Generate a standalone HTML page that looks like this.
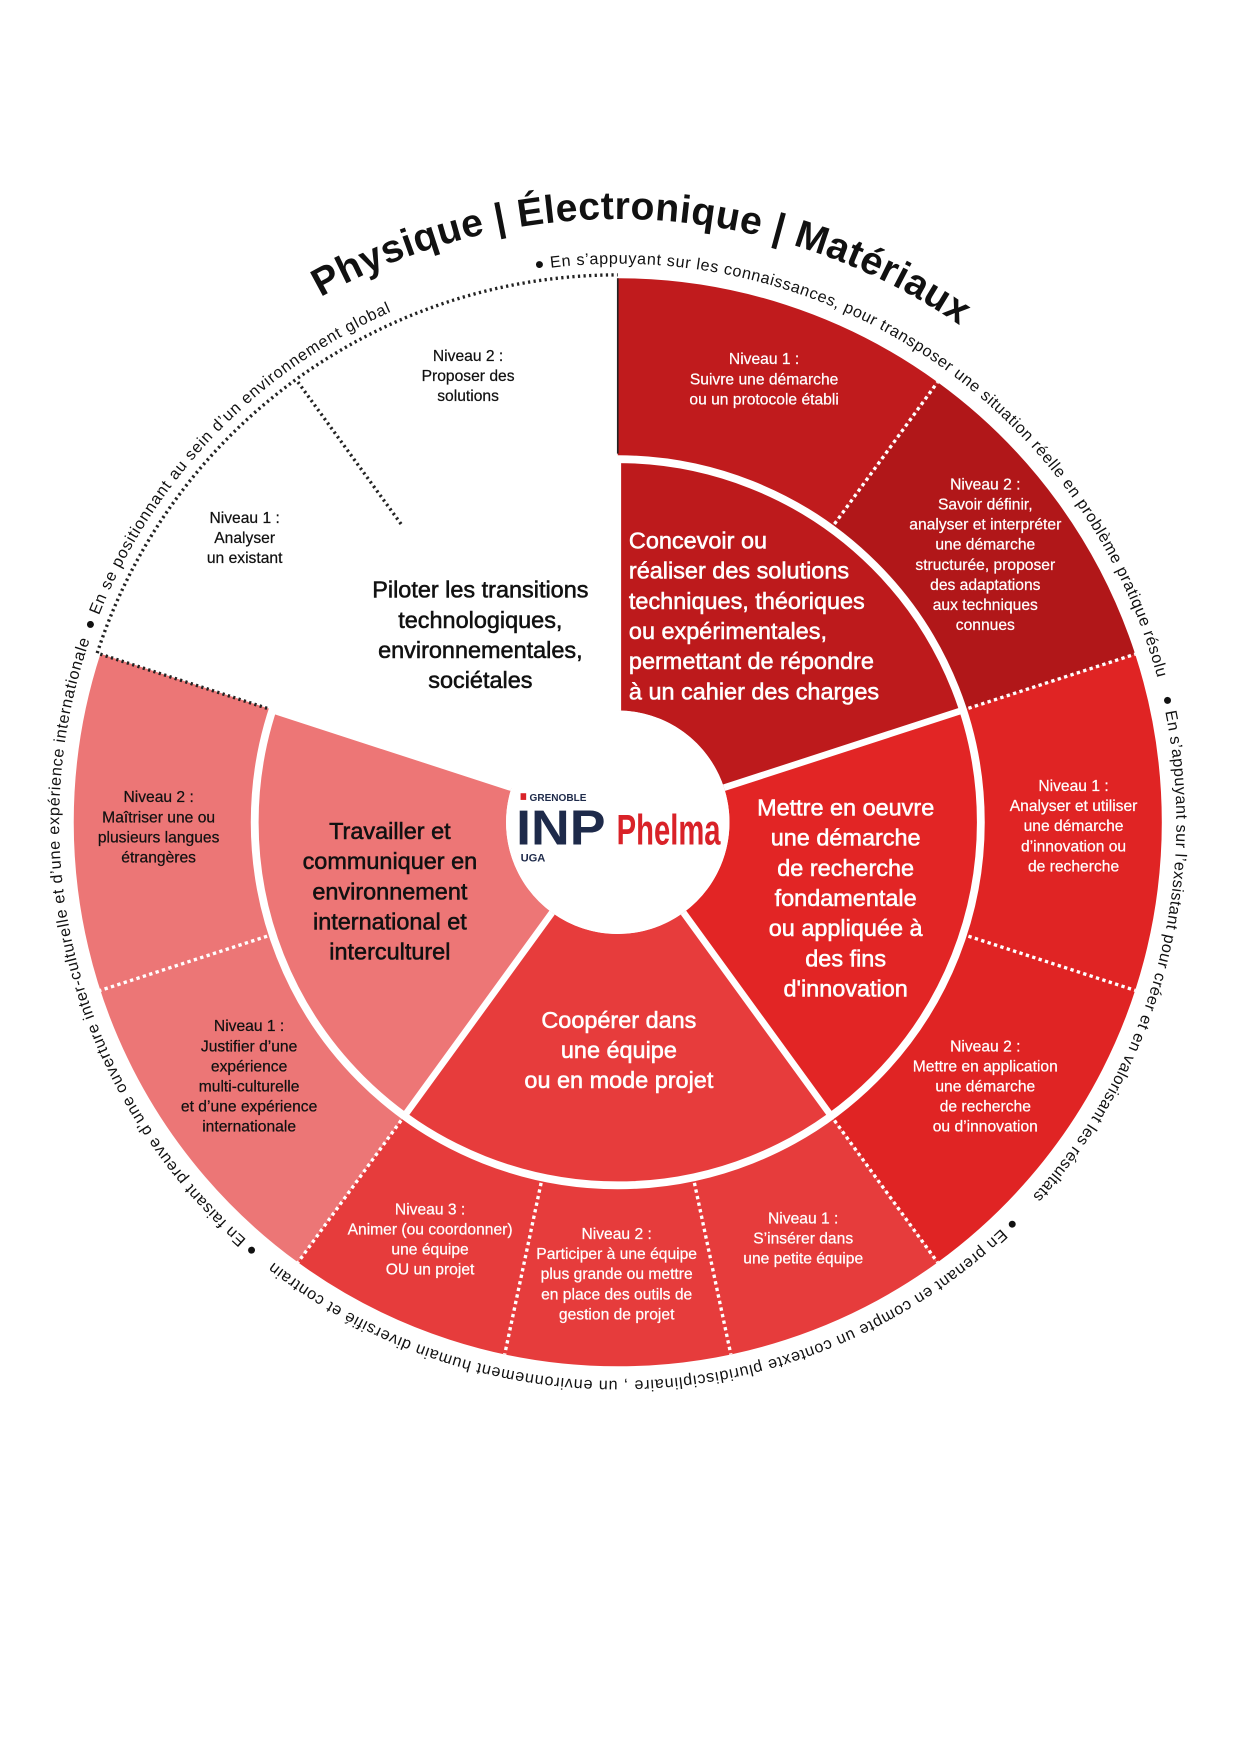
<!DOCTYPE html>
<html><head><meta charset="utf-8"><style>
html,body{margin:0;padding:0;background:#fff;}
svg{display:block;}
.lv{font-family:"Liberation Sans Narrow","Liberation Sans",sans-serif;font-size:14px;text-anchor:middle;stroke-width:0.2;}
.in{font-family:"Liberation Sans",sans-serif;font-size:21px;stroke-width:0.5;}
.rt{font-family:"Liberation Sans",sans-serif;font-size:14.5px;fill:#111;}
</style></head><body>
<svg width="1240" height="1754" viewBox="0 0 1110 1570" xmlns="http://www.w3.org/2000/svg">
<defs>
<path id="ring" d="M381.99,266.15 A500,500 0 1,1 724.01,1205.85 A500,500 0 1,1 381.99,266.15"/>
<path id="title" d="M243.3,293.6 A540,540 0 0,1 900.1,322.4"/>
</defs>
<g transform="rotate(-90 553 736)" fill="none" stroke-width="162">
<circle cx="553" cy="736" r="406" stroke="#c01b1d" stroke-dasharray="255.1 2551"/>
<circle cx="553" cy="736" r="406" stroke="#b11719" stroke-dasharray="0 255.1 255.1 2551"/>
<circle cx="553" cy="736" r="406" stroke="#e02424" stroke-dasharray="0 510.2 510.2 2551"/>
<circle cx="553" cy="736" r="406" stroke="#e63c3c" stroke-dasharray="0 1020.5 510.2 2551"/>
<circle cx="553" cy="736" r="406" stroke="#ec7676" stroke-dasharray="0 1530.7 510.2 2551"/>
</g>
<g transform="rotate(-90 553 736)" fill="none" stroke-width="225">
<circle cx="553" cy="736" r="212.5" stroke="#bd1a1c" stroke-dasharray="267.04 1335.2"/>
<circle cx="553" cy="736" r="212.5" stroke="#e22525" stroke-dasharray="0 267.04 267.04 1335.2"/>
<circle cx="553" cy="736" r="212.5" stroke="#e73c3c" stroke-dasharray="0 534.1 267.04 1335.2"/>
<circle cx="553" cy="736" r="212.5" stroke="#ed7676" stroke-dasharray="0 801.1 267.04 1335.2"/>
</g>
<circle cx="553" cy="736" r="325" fill="none" stroke="#fff" stroke-width="7"/>
<g stroke="#fff" stroke-width="6">
<line x1="553" y1="636" x2="553" y2="411"/>
<line x1="648.1" y1="705.1" x2="862.1" y2="635.6"/>
<line x1="611.8" y1="816.9" x2="744" y2="998.9"/>
<line x1="494.2" y1="816.9" x2="362" y2="998.9"/>
<line x1="457.9" y1="705.1" x2="243.9" y2="635.6"/>
</g>
<g stroke="#fff" stroke-width="3" stroke-dasharray="3 3">
<line x1="747" y1="469" x2="839.3" y2="342"/>
<line x1="866.9" y1="634" x2="1016.2" y2="585.5"/>
<line x1="866.9" y1="838" x2="1016.2" y2="886.5"/>
<line x1="747" y1="1003" x2="839.3" y2="1130"/>
<line x1="621.6" y1="1058.8" x2="654.2" y2="1212.3"/>
<line x1="484.4" y1="1058.8" x2="451.8" y2="1212.3"/>
<line x1="359" y1="1003" x2="266.7" y2="1130"/>
<line x1="239.1" y1="838" x2="89.8" y2="886.5"/>
</g>
<g stroke="#222" stroke-width="3" stroke-dasharray="2 3" fill="none">
<line x1="359" y1="469" x2="266.7" y2="342"/>
<line x1="239.1" y1="634" x2="89.8" y2="585.5"/>
<line x1="553" y1="406" x2="553" y2="249" stroke-dasharray="none" stroke-width="1.5"/>
<path d="M87,584.6 A490,490 0 0,1 553,246"/>
</g>
<circle cx="553" cy="736" r="100" fill="#fff"/>
<rect x="466" y="710" width="5" height="6" fill="#d92228"/>
<text x="474" y="717" font-family="Liberation Sans,sans-serif" font-weight="bold" font-size="9" fill="#1e2a4a">GRENOBLE</text>
<text x="462" y="756" font-family="Liberation Sans,sans-serif" font-weight="bold" font-size="44" fill="#1e2a4a" textLength="80" lengthAdjust="spacingAndGlyphs">INP</text>
<text x="466" y="771" font-family="Liberation Sans,sans-serif" font-weight="bold" font-size="10" fill="#1e2a4a">UGA</text>
<text x="552" y="756" font-family="Liberation Sans Narrow,Liberation Sans,sans-serif" font-weight="bold" font-size="38" fill="#d92228" textLength="93" lengthAdjust="spacingAndGlyphs">Phelma</text>
<g class="in" fill="#111" stroke="#111" stroke-width="0.4" text-anchor="middle">
<text x="430" y="535">Piloter les transitions</text>
<text x="430" y="562">technologiques,</text>
<text x="430" y="589">environnementales,</text>
<text x="430" y="616">sociétales</text>
</g>
<g class="in" fill="#fff" stroke="#fff">
<text x="563" y="491">Concevoir ou</text>
<text x="563" y="518">réaliser des solutions</text>
<text x="563" y="545">techniques, théoriques</text>
<text x="563" y="572">ou expérimentales,</text>
<text x="563" y="599">permettant de répondre</text>
<text x="563" y="626">à un cahier des charges</text>
</g>
<g class="in" fill="#fff" stroke="#fff" text-anchor="middle">
<text x="757" y="730">Mettre en oeuvre</text>
<text x="757" y="757">une démarche</text>
<text x="757" y="784">de recherche</text>
<text x="757" y="811">fondamentale</text>
<text x="757" y="838">ou appliquée à</text>
<text x="757" y="865">des fins</text>
<text x="757" y="892">d'innovation</text>
<text x="554" y="920">Coopérer dans</text>
<text x="554" y="947">une équipe</text>
<text x="554" y="974">ou en mode projet</text>
</g>
<g class="in" fill="#111" stroke="#111" stroke-width="0.4" text-anchor="middle">
<text x="349" y="751">Travailler et</text>
<text x="349" y="778">communiquer en</text>
<text x="349" y="805">environnement</text>
<text x="349" y="832">international et</text>
<text x="349" y="859">interculturel</text>
</g>
<g class="lv" fill="#111" stroke="#111">
<text x="419" y="323">Niveau 2 :</text><text x="419" y="341">Proposer des</text><text x="419" y="359">solutions</text>
<text x="219" y="468">Niveau 1 :</text><text x="219" y="486">Analyser</text><text x="219" y="504">un existant</text>
<text x="142" y="718">Niveau 2 :</text><text x="142" y="736">Maîtriser une ou</text><text x="142" y="754">plusieurs langues</text><text x="142" y="772">étrangères</text>
<text x="223" y="923">Niveau 1 :</text><text x="223" y="941">Justifier d’une</text><text x="223" y="959">expérience</text><text x="223" y="977">multi-culturelle</text><text x="223" y="995">et d’une expérience</text><text x="223" y="1013">internationale</text>
</g>
<g class="lv" fill="#fff" stroke="#fff">
<text x="684" y="326">Niveau 1 :</text><text x="684" y="344">Suivre une démarche</text><text x="684" y="362">ou un protocole établi</text>
<text x="882" y="438">Niveau 2 :</text><text x="882" y="456">Savoir définir,</text><text x="882" y="474">analyser et interpréter</text><text x="882" y="492">une démarche</text><text x="882" y="510">structurée, proposer</text><text x="882" y="528">des adaptations</text><text x="882" y="546">aux techniques</text><text x="882" y="564">connues</text>
<text x="961" y="708">Niveau 1 :</text><text x="961" y="726">Analyser et utiliser</text><text x="961" y="744">une démarche</text><text x="961" y="762">d’innovation ou</text><text x="961" y="780">de recherche</text>
<text x="882" y="941">Niveau 2 :</text><text x="882" y="959">Mettre en application</text><text x="882" y="977">une démarche</text><text x="882" y="995">de recherche</text><text x="882" y="1013">ou d’innovation</text>
<text x="719" y="1095">Niveau 1 :</text><text x="719" y="1113">S’insérer dans</text><text x="719" y="1131">une petite équipe</text>
<text x="552" y="1109">Niveau 2 :</text><text x="552" y="1127">Participer à une équipe</text><text x="552" y="1145">plus grande ou mettre</text><text x="552" y="1163">en place des outils de</text><text x="552" y="1181">gestion de projet</text>
<text x="385" y="1087">Niveau 3 :</text><text x="385" y="1105">Animer (ou coordonner)</text><text x="385" y="1123">une équipe</text><text x="385" y="1141">OU un projet</text>
</g>
<text class="rt"><textPath href="#ring" startOffset="100.4" textLength="728.7" lengthAdjust="spacing">● En s’appuyant sur les connaissances, pour transposer une situation réelle en problème pratique résolu</textPath></text>
<text class="rt"><textPath href="#ring" startOffset="846.5" textLength="480" lengthAdjust="spacing">● En s’appuyant sur l’exsistant pour créer et en valorisant les résultats</textPath></text>
<text class="rt"><textPath href="#ring" startOffset="1352.7" textLength="724.3" lengthAdjust="spacing">● En prenant en compte un contexte pluridisciplinaire , un environnement humain  diversifié et contrain</textPath></text>
<text class="rt"><textPath href="#ring" startOffset="2094.5" textLength="602.2" lengthAdjust="spacing">● En faisant preuve d’une ouverture inter-culturelle et d’une expérience  internationale</textPath></text>
<text class="rt"><textPath href="#ring" startOffset="2705.4" textLength="401.4" lengthAdjust="spacing">● En se positionnant au sein d’un environnement global</textPath></text>
<text font-family="Liberation Sans,sans-serif" font-size="35" font-weight="bold" fill="#111"><textPath href="#title" startOffset="51.8" textLength="603.2" lengthAdjust="spacing">Physique | Électronique | Matériaux</textPath></text>
</svg>
</body></html>
